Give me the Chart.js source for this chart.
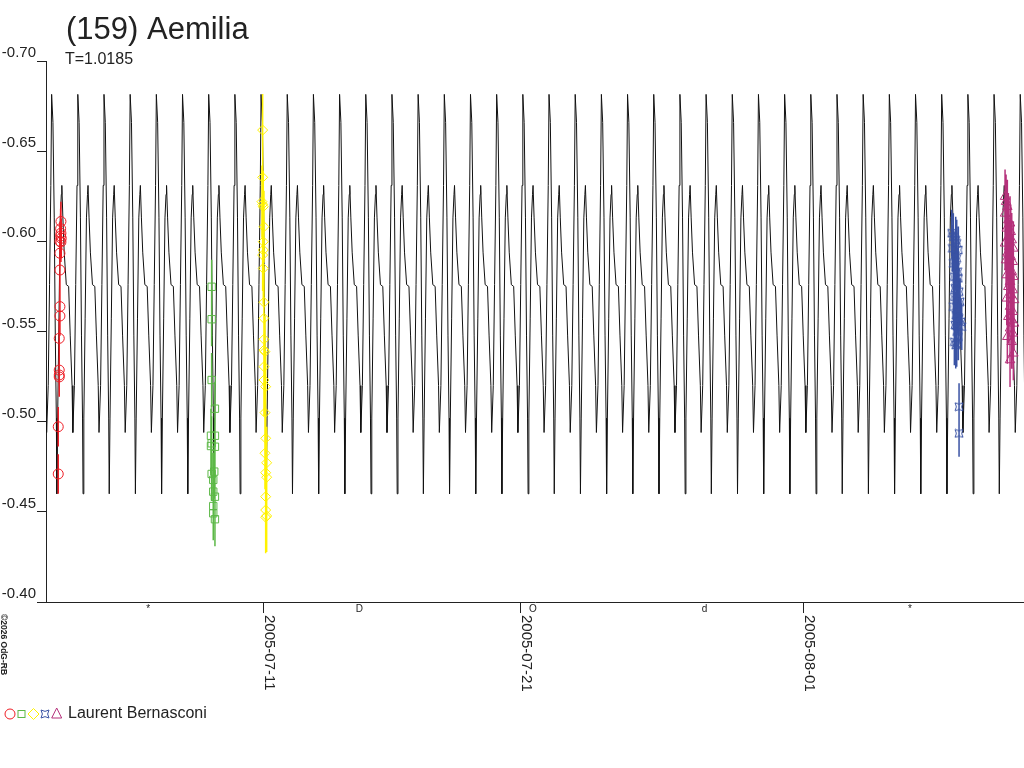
<!DOCTYPE html>
<html><head><meta charset="utf-8">
<script src="https://cdn.jsdelivr.net/npm/chart.js@4.4.0/dist/chart.umd.min.js"></script>
<style>html,body{margin:0;padding:0;background:#fff;}canvas{display:block;}</style>
</head><body>
<canvas id="c" width="1024" height="768"></canvas>
<script>
// ---------- text ----------
const titleText = '(159) Aemilia';
const subtitleText = 'T=1.0185';
const observerName = 'Laurent Bernasconi';
const copyrightText = '©2026 OdG-RB';

// ---------- axes (x in days since 2005-07-01 00:00 UT) ----------
const xMin = 1.52, xMax = 39.57;
const yMin = -0.70, yMax = -0.40, yStep = 0.05;
const dateTickDays = [10, 20, 31];
const dateTickLabels = ['2005-07-11', '2005-07-21', '2005-08-01'];
const moonDays = [5.50, 13.71, 20.46, 27.14, 35.13];
const moonGlyphs = ['*', 'D', 'O', 'd', '*'];

// ---------- model light curve: one period ----------
const period = 1.0185;
const epoch = 1.739; // a main maximum
const profilePhase = [0, 0.05, 0.10, 0.14, 0.18, 0.20, 0.23, 0.28, 0.33, 0.37, 0.39, 0.43, 0.48, 0.56, 0.65, 0.71, 0.78, 0.81, 0.87, 0.92, 0.97];
const profileMag   = [-0.6815, -0.666, -0.613, -0.548, -0.502, -0.460, -0.502, -0.557, -0.613, -0.626, -0.631, -0.613, -0.594, -0.576, -0.575, -0.548, -0.520, -0.494, -0.520, -0.576, -0.631];

// ---------- observed sessions ----------
const redDays = [2.101, 2.089, 2.101, 2.089, 2.113, 2.062, 2.101, 2.062, 2.062, 2.062, 2.062, 2.035, 2.035, 2.035, 2.035, 1.996, 1.996];
const redMags = [-0.611, -0.607, -0.6045, -0.603, -0.6017, -0.600, -0.5996, -0.5934, -0.5841, -0.5638, -0.5586, -0.5462, -0.5286, -0.5259, -0.5248, -0.4972, -0.4710];
const redErr = 0.011;

const greenDays = [7.965, 7.965, 7.965, 8.093, 7.938, 8.093, 7.965, 8.093, 7.938, 8.066, 7.965, 8.027, 8.027, 8.093, 8.027, 8.027, 8.093];
const greenMags = [-0.5748, -0.5568, -0.5231, -0.5072, -0.4922, -0.4922, -0.4880, -0.4861, -0.4865, -0.4723, -0.4710, -0.4677, -0.4612, -0.4584, -0.4532, -0.4492, -0.4459];
const greenErr = 0.015;

const yellowDays = [9.949, 9.949, 9.922, 9.949, 9.973, 10.0, 9.973, 9.973, 9.949, 9.973, 10.0, 10.0, 10.0, 10.0, 10.039, 10.0, 10.0, 10.066, 10.039, 10.066, 10.039, 10.105, 10.066, 10.105, 10.066, 10.066, 10.105, 10.066];
const yellowMags = [-0.6617, -0.6355, -0.6220, -0.6205, -0.6192, -0.6081, -0.5998, -0.5952, -0.5924, -0.5850, -0.5662, -0.5573, -0.5457, -0.5397, -0.5388, -0.5305, -0.5231, -0.5194, -0.5050, -0.4908, -0.4825, -0.4772, -0.4717, -0.4692, -0.4584, -0.4510, -0.4477, -0.4470];
const yellowErr = 0.02;

const blueDays = [36.759, 36.821, 36.914, 36.953, 36.782, 37.016, 36.887, 36.953, 36.821, 36.914, 36.992, 36.860, 37.016, 36.953, 36.887, 37.043, 36.860, 36.953, 37.082, 36.821, 36.992, 36.914, 37.043, 37.121, 36.887, 37.016, 37.148, 36.953, 37.016, 36.860, 36.953, 36.914, 37.043, 37.043];
const blueMags = [-0.6045, -0.6026, -0.6007, -0.5989, -0.5961, -0.5952, -0.5924, -0.5906, -0.5878, -0.5859, -0.5832, -0.5804, -0.5795, -0.5767, -0.5740, -0.5721, -0.5693, -0.5675, -0.5665, -0.5638, -0.5619, -0.5591, -0.5573, -0.5554, -0.5536, -0.5527, -0.5527, -0.5499, -0.5471, -0.5443, -0.5434, -0.5425, -0.5083, -0.4935];
const blueErr = 0.013;

const magentaDays = [38.833, 38.872, 38.922, 38.833, 38.961, 39.027, 38.899, 39.054, 38.961, 39.093, 38.833, 38.999, 39.156, 38.922, 39.054, 38.872, 39.132, 38.999, 39.093, 38.899, 39.156, 39.027, 38.961, 39.132, 39.054, 38.899, 39.183, 39.027, 39.132, 38.961, 39.093, 39.183, 39.027, 39.132, 38.922, 39.093, 39.156, 39.027];
const magentaMags = [-0.6248, -0.6220, -0.6192, -0.6155, -0.6118, -0.6100, -0.6072, -0.6053, -0.6026, -0.6007, -0.5989, -0.5970, -0.5961, -0.5934, -0.5915, -0.5896, -0.5887, -0.5859, -0.5832, -0.5813, -0.5804, -0.5776, -0.5748, -0.5730, -0.5702, -0.5684, -0.5675, -0.5638, -0.5610, -0.5582, -0.5564, -0.5545, -0.5518, -0.5490, -0.5471, -0.5443, -0.5379, -0.5342];
const magentaErr = 0.015;

// ---------- styles ----------
const FONT = "'Liberation Sans', Arial, Helvetica, sans-serif";
const INK = '#222222';
const CURVE = '#111111';
const RED = '#ee1c24', GREEN = '#5cb847', YELLOW = '#fff200', BLUE = '#3a53a4', MAGENTA = '#b5317b';

Chart.defaults.font.family = FONT;

function makeBlueSymbol(size) {
  const c = document.createElement('canvas');
  c.width = size; c.height = size;
  const g = c.getContext('2d');
  const a = 1, b = size - 1, m = size / 2;
  g.strokeStyle = BLUE; g.lineWidth = 1;
  g.beginPath();
  g.moveTo(a, a);
  g.quadraticCurveTo(m, m * 0.75, b, a);
  g.quadraticCurveTo(size - m * 0.75, m, b, b);
  g.quadraticCurveTo(m, size - m * 0.75, a, b);
  g.quadraticCurveTo(m * 0.75, m, a, a);
  g.stroke();
  return c;
}
const blueSymbol = makeBlueSymbol(10);

function pts(xs, ys) { return xs.map((x, i) => ({ x: x, y: ys[i] })); }

const curve = [];
for (let k = -2; k <= 40; k++) {
  for (let i = 0; i < profilePhase.length; i++) {
    const x = epoch + (k + profilePhase[i]) * period;
    if (x > xMin - 1.5 && x < xMax + 1.5) curve.push({ x: x, y: profileMag[i] });
  }
}

const errPlugin = {
  id: 'errbars',
  beforeDatasetDraw(chart, args) {
    const ds = chart.data.datasets[args.index];
    if (!ds.err) return;
    const ys = chart.scales.y, a = chart.chartArea, c = chart.ctx;
    c.save();
    c.beginPath(); c.rect(a.left, a.top, a.right - a.left, a.bottom - a.top); c.clip();
    c.strokeStyle = ds.borderColor; c.lineWidth = 1.5;
    c.beginPath();
    ds.data.forEach((p, i) => {
      const el = args.meta.data[i];
      c.moveTo(el.x, ys.getPixelForValue(p.y - ds.err));
      c.lineTo(el.x, ys.getPixelForValue(p.y + ds.err));
    });
    c.stroke();
    c.restore();
  }
};

const decoPlugin = {
  id: 'deco',
  afterDraw(chart) {
    const c = chart.ctx, xs = chart.scales.x, a = chart.chartArea;
    c.save();
    c.fillStyle = INK;
    // title + period
    c.textAlign = 'left'; c.textBaseline = 'alphabetic';
    c.font = '31px ' + FONT; c.fillText(titleText, 66, 39);
    c.font = '16px ' + FONT; c.fillText(subtitleText, 65, 64);
    // date labels, rotated clockwise
    c.font = '15px ' + FONT;
    dateTickDays.forEach((d, i) => {
      const px = xs.getPixelForValue(d);
      c.save(); c.translate(px + 1, a.bottom + 13); c.rotate(Math.PI / 2);
      c.textBaseline = 'alphabetic'; c.textAlign = 'left';
      c.fillText(dateTickLabels[i], 0, 0);
      c.restore();
    });
    // moon phases
    c.font = '10px ' + FONT; c.textAlign = 'center'; c.textBaseline = 'top';
    moonDays.forEach((d, i) => c.fillText(moonGlyphs[i], xs.getPixelForValue(d), a.bottom + 2));
    // copyright
    c.save(); c.translate(1, 614); c.rotate(Math.PI / 2);
    c.font = 'bold 8.5px ' + FONT; c.textAlign = 'left'; c.textBaseline = 'alphabetic';
    c.fillText(copyrightText, 0, 0);
    c.restore();
    // legend
    const ly = 714;
    c.lineWidth = 1;
    c.strokeStyle = RED; c.beginPath(); c.arc(10, ly, 5, 0, Math.PI * 2); c.stroke();
    c.strokeStyle = GREEN; c.strokeRect(18, ly - 3.5, 7, 7);
    c.strokeStyle = YELLOW; c.beginPath(); c.moveTo(33.5, ly - 5.5); c.lineTo(39, ly); c.lineTo(33.5, ly + 5.5); c.lineTo(28, ly); c.closePath(); c.stroke();
    c.drawImage(blueSymbol, 40, ly - 5);
    c.strokeStyle = MAGENTA; c.beginPath(); c.moveTo(56.7, ly - 6); c.lineTo(61.7, ly + 4); c.lineTo(51.7, ly + 4); c.closePath(); c.stroke();
    c.fillStyle = INK; c.font = '16px ' + FONT; c.textAlign = 'left'; c.textBaseline = 'alphabetic';
    c.fillText(observerName, 68, 718);
    c.restore();
  }
};

function session(label, xsArr, ysArr, color, style, radius, err) {
  return {
    label: label, data: pts(xsArr, ysArr), showLine: false,
    pointStyle: style, pointRadius: radius, pointHoverRadius: radius,
    borderColor: color, pointBorderColor: color, backgroundColor: 'rgba(0,0,0,0)',
    pointBackgroundColor: 'rgba(0,0,0,0)', pointBorderWidth: 1, err: err, order: 1
  };
}

new Chart(document.getElementById('c'), {
  type: 'scatter',
  data: {
    datasets: [
      { label: 'model', data: curve, showLine: true, pointRadius: 0, pointHoverRadius: 0,
        borderColor: CURVE, borderWidth: 1, tension: 0, order: 10 },
      session('1', redDays, redMags, RED, 'circle', 5, redErr),
      session('2', greenDays, greenMags, GREEN, 'rect', 5.2, greenErr),
      session('3', yellowDays, yellowMags, YELLOW, 'rectRot', 5, yellowErr),
      session('4', blueDays, blueMags, BLUE, blueSymbol, 5, blueErr),
      session('5', magentaDays, magentaMags, MAGENTA, 'triangle', 5.5, magentaErr)
    ]
  },
  options: {
    responsive: false, animation: false, events: [],
    layout: { autoPadding: false, padding: { top: 61, bottom: 154, left: 0, right: 0 } },
    plugins: { legend: { display: false }, title: { display: false }, tooltip: { enabled: false } },
    scales: {
      x: {
        type: 'linear', min: xMin, max: xMax,
        afterBuildTicks: s => { s.ticks = dateTickDays.map(v => ({ value: v })); },
        ticks: { display: false },
        grid: { drawOnChartArea: false, drawTicks: true, tickLength: 11, color: INK },
        border: { color: INK, width: 1 },
        afterFit: s => { s.height = 12; }
      },
      y: {
        type: 'linear', reverse: true, min: yMin, max: yMax,
        ticks: { stepSize: yStep, callback: v => Number(v).toFixed(2), font: { size: 15, family: FONT }, color: INK, padding: 1, labelOffset: -8 },
        grid: { drawOnChartArea: false, drawTicks: true, tickLength: 9, color: INK },
        border: { color: INK, width: 1 },
        afterFit: s => { s.width = 46; }
      }
    }
  },
  plugins: [errPlugin, decoPlugin]
});
</script>
</body></html>
